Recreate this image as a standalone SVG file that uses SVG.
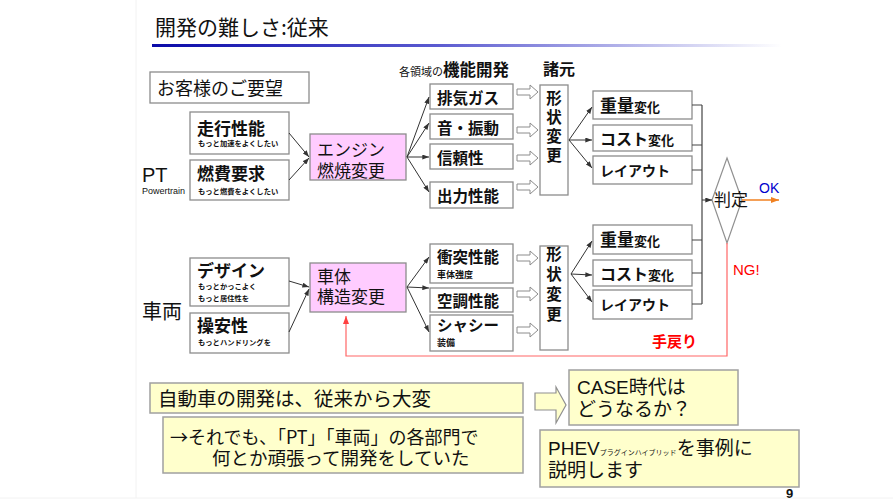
<svg xmlns="http://www.w3.org/2000/svg" width="893" height="504" viewBox="0 0 893 504">
<defs>
<linearGradient id="tl" x1="0" y1="0" x2="1" y2="0">
<stop offset="0" stop-color="#0a0aa8"/>
<stop offset="0.45" stop-color="#5a5ad0"/>
<stop offset="1" stop-color="#ffffff"/>
</linearGradient>
<marker id="ah" viewBox="0 0 8 6" refX="8" refY="3" markerWidth="7" markerHeight="5" orient="auto" markerUnits="userSpaceOnUse"><path d="M0,0 L8,3 L0,6 Z" fill="#333"/></marker>
<marker id="ahr" viewBox="0 0 8 6" refX="8" refY="3" markerWidth="8" markerHeight="6" orient="auto" markerUnits="userSpaceOnUse"><path d="M0,0 L8,3 L0,6 Z" fill="#ff4040"/></marker>
<marker id="aho" viewBox="0 0 8 6" refX="8" refY="3" markerWidth="8" markerHeight="6" orient="auto" markerUnits="userSpaceOnUse"><path d="M0,0 L8,3 L0,6 Z" fill="#f08020"/></marker>
<path id="hollow" d="M0,-3 H13 V-7 L21,0 L13,7 V3 H0 Z"/>
</defs>
<style>
.jp{font-family:"Noto Sans CJK JP","Noto Sans",sans-serif;fill:#111}
.la{font-family:"Liberation Sans",Arial,sans-serif;fill:#111}
.b{font-weight:bold}
.box{fill:#fff;stroke:#8c8c8c;stroke-width:1.3}
.pink{fill:#ffccff;stroke:#8c8c8c;stroke-width:1.3}
.yel{fill:#ffffcc;stroke:#a0a0a0;stroke-width:1.5}
.ln{fill:none;stroke:#333;stroke-width:1;marker-end:url(#ah)}
.br{fill:none;stroke:#444;stroke-width:1.2}
.ho{fill:#fff;stroke:#8c8c8c;stroke-width:1}
</style>
<rect width="893" height="504" fill="#fff"/>
<g id="slide-frame" fill="none" stroke="#f2f2f2" stroke-width="1">
<line x1="136" y1="0" x2="136" y2="498"/>
<line x1="0" y1="498" x2="893" y2="498"/>
</g>
<g id="title">
<text class="jp" x="155" y="35" font-size="21">開発の難しさ:従来</text>
<rect x="152" y="44" width="630" height="3" fill="url(#tl)"/>
</g>
<g id="header-labels">
<text class="jp" x="399" y="76" font-size="11">各領域の<tspan font-size="16.5" font-weight="bold">機能開発</tspan></text>
<text class="jp b" x="543" y="75" font-size="16">諸元</text>
</g>
<g id="customer-req"><rect class="box" x="150" y="72" width="159" height="31"/><text class="jp" x="157" y="95" font-size="18">お客様のご要望</text></g>
<g id="label-pt"><text class="la" x="142" y="182" font-size="20">PT</text><text class="la" x="142" y="194" font-size="9">Powertrain</text></g>
<g id="label-vehicle"><text class="jp" x="142" y="319" font-size="20">車両</text></g>
<g id="run-perf"><rect class="box" x="190" y="112" width="99" height="42"/><text class="jp b" x="197" y="135" font-size="17">走行性能</text><text class="jp b" x="198" y="146" font-size="7.3">もっと加速をよくしたい</text></g>
<g id="fuel"><rect class="box" x="190" y="160" width="99" height="40"/><text class="jp b" x="197" y="180" font-size="17">燃費要求</text><text class="jp b" x="198" y="193.5" font-size="7.3">もっと燃費をよくしたい</text></g>
<g id="design"><rect class="box" x="190" y="258" width="99" height="48"/><text class="jp b" x="197" y="277" font-size="17">デザイン</text><text class="jp b" x="198" y="289" font-size="7.3">もっとかっこよく</text><text class="jp b" x="198" y="300.5" font-size="7.3">もっと居住性を</text></g>
<g id="handling"><rect class="box" x="190" y="313" width="99" height="40"/><text class="jp b" x="197" y="332" font-size="17">操安性</text><text class="jp b" x="198" y="345" font-size="7.3">もっとハンドリングを</text></g>
<g id="engine"><rect class="pink" x="310" y="134" width="96" height="46"/><text class="jp" x="317" y="156" font-size="17">エンジン</text><text class="jp" x="317" y="177" font-size="17">燃焼変更</text></g>
<g id="body"><rect class="pink" x="310" y="263" width="96" height="49"/><text class="jp" x="317" y="283" font-size="17">車体</text><text class="jp" x="317" y="303" font-size="17">構造変更</text></g>
<g id="exhaust"><rect class="box" x="430" y="84" width="83" height="25"/><text class="jp b" x="437" y="104" font-size="15.5">排気ガス</text></g>
<g id="nvh"><rect class="box" x="430" y="114" width="83" height="25"/><text class="jp b" x="437" y="134" font-size="15.5">音・振動</text></g>
<g id="reliability"><rect class="box" x="430" y="144" width="83" height="25"/><text class="jp b" x="437" y="164" font-size="15.5">信頼性</text></g>
<g id="output"><rect class="box" x="430" y="182" width="83" height="26"/><text class="jp b" x="437" y="202" font-size="15.5">出力性能</text></g>
<g id="crash"><rect class="box" x="430" y="244" width="83" height="39"/><text class="jp b" x="437" y="263" font-size="15.5">衝突性能</text><text class="jp b" x="437" y="278" font-size="9">車体強度</text></g>
<g id="hvac"><rect class="box" x="430" y="288" width="83" height="24"/><text class="jp b" x="437" y="307" font-size="15.5">空調性能</text></g>
<g id="chassis"><rect class="box" x="430" y="315" width="83" height="36"/><text class="jp b" x="437" y="331" font-size="15.5">シャシー</text><text class="jp b" x="437" y="346" font-size="9">装備</text></g>
<g id="shape-pt"><rect class="box" x="540" y="85" width="28" height="110"/><g class="jp b" font-size="15.5" text-anchor="middle"><text x="554" y="104">形</text><text x="554" y="123">状</text><text x="554" y="142">変</text><text x="554" y="161">更</text></g></g>
<g id="shape-veh"><rect class="box" x="540" y="246" width="28" height="104"/><g class="jp b" font-size="15.5" text-anchor="middle"><text x="554" y="260">形</text><text x="554" y="280">状</text><text x="554" y="300">変</text><text x="554" y="320">更</text></g></g>
<g id="weight-pt"><rect class="box" x="593" y="91" width="99" height="28"/><text class="jp b" x="600" y="112" font-size="17">重量<tspan font-size="13">変化</tspan></text></g>
<g id="cost-pt"><rect class="box" x="593" y="125" width="99" height="26"/><text class="jp b" x="600" y="145" font-size="16">コスト<tspan font-size="13">変化</tspan></text></g>
<g id="layout-pt"><rect class="box" x="593" y="156" width="99" height="28"/><text class="jp b" x="600" y="176" font-size="14">レイアウト</text></g>
<g id="weight-veh"><rect class="box" x="593" y="225" width="99" height="29"/><text class="jp b" x="600" y="246" font-size="17">重量<tspan font-size="13">変化</tspan></text></g>
<g id="cost-veh"><rect class="box" x="593" y="260" width="99" height="26"/><text class="jp b" x="600" y="280" font-size="16">コスト<tspan font-size="13">変化</tspan></text></g>
<g id="layout-veh"><rect class="box" x="593" y="290" width="99" height="29"/><text class="jp b" x="600" y="310" font-size="14">レイアウト</text></g>
<g id="judge"><polygon points="727,158 742,200 727,243 712,200" fill="#fff" stroke="#909090" stroke-width="1.2"/><text class="jp" x="731" y="206" font-size="17" text-anchor="middle">判定</text></g>
<g id="connectors">
<path class="ln" d="M289,133 L309,157"/>
<path class="ln" d="M289,180 L309,158"/>
<path class="ln" d="M289,281 L309,287"/>
<path class="ln" d="M289,332 L309,289"/>
<path class="ln" d="M407,157 L429,97"/>
<path class="ln" d="M407,157 L429,123"/>
<path class="ln" d="M407,157 L429,157"/>
<path class="ln" d="M407,157 L429,192"/>
<path class="ln" d="M407,287 L429,257"/>
<path class="ln" d="M407,287 L429,288"/>
<path class="ln" d="M407,287 L429,332"/>
<path class="ln" d="M569,140 L592,107"/>
<path class="ln" d="M569,140 L592,140"/>
<path class="ln" d="M569,140 L592,168"/>
<path class="ln" d="M571,274 L592,241"/>
<path class="ln" d="M571,274 L592,275"/>
<path class="ln" d="M571,274 L592,302"/>
<g class="ho">
<use href="#hollow" x="517" y="92"/>
<use href="#hollow" x="517" y="130"/>
<use href="#hollow" x="517" y="158"/>
<use href="#hollow" x="517" y="187"/>
<use href="#hollow" x="517" y="258"/>
<use href="#hollow" x="517" y="294"/>
<use href="#hollow" x="517" y="330"/>
</g>
<path class="br" d="M692,105 H702 M692,145 H702 M692,170 H702 M692,240 H702 M692,273 H702 M692,304 H702 M702,105 V304"/>
<path class="ln" d="M702,200 L712,200"/>
<path d="M742,200 L779,200" fill="none" stroke="#f08020" stroke-width="1.5" marker-end="url(#aho)"/>
<path d="M727,243 V356 H346 V316" fill="none" stroke="#ff6666" stroke-width="1.2" marker-end="url(#ahr)"/>
<path d="M535,393 H556 V387 L566,405 L556,423 V410 H535 Z" fill="#ffffcc" stroke="#909090" stroke-width="1.2"/>
</g>
<g id="label-ok"><text class="la" x="759" y="193" font-size="14" style="fill:#0000cc">OK</text></g>
<g id="label-ng"><text class="la" x="733" y="275" font-size="15" style="fill:#ff0000">NG!</text></g>
<g id="label-rework"><text class="jp b" x="652" y="347" font-size="15" style="fill:#ff0000">手戻り</text></g>
<g id="note-1"><rect class="yel" x="150" y="383" width="373" height="30"/><text class="jp" x="158" y="406" font-size="19.5">自動車の開発は、従来から大変</text></g>
<g id="note-2"><rect class="yel" x="163" y="417" width="360" height="56"/><text class="jp" x="170" y="444" font-size="18">→それでも、「PT」「車両」の各部門で</text><text class="jp" x="212" y="465" font-size="18.5">何とか頑張って開発をしていた</text></g>
<g id="note-case"><rect class="yel" x="569" y="370" width="169" height="55"/><text class="jp" x="577" y="394" font-size="19"><tspan font-family="Liberation Sans, Arial, sans-serif">CASE</tspan>時代は</text><text class="jp" x="577" y="416" font-size="19">どうなるか？</text></g>
<g id="note-phev"><rect class="yel" x="540" y="430" width="259" height="57"/><text class="jp" x="548" y="455" font-size="19"><tspan font-family="Liberation Sans, Arial, sans-serif">PHEV</tspan><tspan font-size="7">プラグインハイブリッド</tspan>を事例に</text><text class="jp" x="548" y="477" font-size="19">説明します</text></g>
<g id="page-num"><text class="la b" x="786" y="498" font-size="13">9</text></g>
</svg>
